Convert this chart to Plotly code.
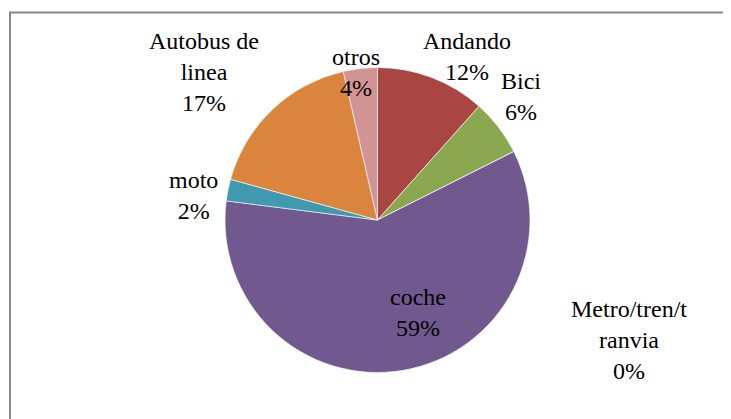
import plotly.graph_objects as go

# datos (porcentaje de desplazamientos por modo)
modos = ["Andando", "Bici", "Metro/tren/tranvia", "coche", "moto", "Autobus de linea", "otros"]
etiquetas = ["Andando", "Bici", "Metro/tren/t<br>ranvia", "coche", "moto", "Autobus de<br>linea", "otros"]
valores = [11.6, 6.0, 0.0, 59.4, 2.3, 17.1, 3.6]
colores = ["#A94644", "#8BA74F", "#4F81BD", "#71598F", "#4199B0", "#DB843D", "#D29394"]

# posicion de cada etiqueta (pixeles en la ventana 731x419)
pos_etiquetas = [(467, 57), (521, 96), (629, 340), (418, 312), (193, 195), (204, 72), (356, 72)]

W, H = 731, 419
OFF = 8  # margen por defecto del body en la pagina
FUENTE = '"Liberation Serif", "Times New Roman", Times, serif'


def px_x(x):
    return (x - OFF) / W


def px_y(y):
    return 1 - (y - OFF) / H


fig = go.Figure()

fig.add_trace(go.Pie(
    labels=modos,
    values=valores,
    sort=False,
    direction="clockwise",
    rotation=0,
    textinfo="none",
    hoverinfo="label+percent",
    marker=dict(colors=colores, line=dict(color="rgba(255,255,255,0.6)", width=1)),
    domain=dict(x=[px_x(225), px_x(530)], y=[px_y(373), px_y(67)]),
    showlegend=False,
))

total = sum(valores)
for etq, v, (px, py) in zip(etiquetas, valores, pos_etiquetas):
    fig.add_annotation(
        x=px_x(px), y=px_y(py), xref="paper", yref="paper",
        text=f"{etq}<br>{round(v / total * 100)}%",
        showarrow=False, xanchor="center", yanchor="middle",
        font=dict(family=FUENTE, size=24, color="black"),
    )

# marco del area del grafico (recortado a la derecha y abajo)
fig.add_shape(
    type="rect", xref="paper", yref="paper",
    x0=px_x(10), x1=1.05, y0=-0.05, y1=px_y(12.5),
    line=dict(color="#878787", width=2),
)

fig.update_layout(
    width=W, height=H,
    margin=dict(l=0, r=0, t=0, b=0),
    font=dict(family=FUENTE),
    paper_bgcolor="white",
    plot_bgcolor="white",
)

fig.write_html("out.html")
